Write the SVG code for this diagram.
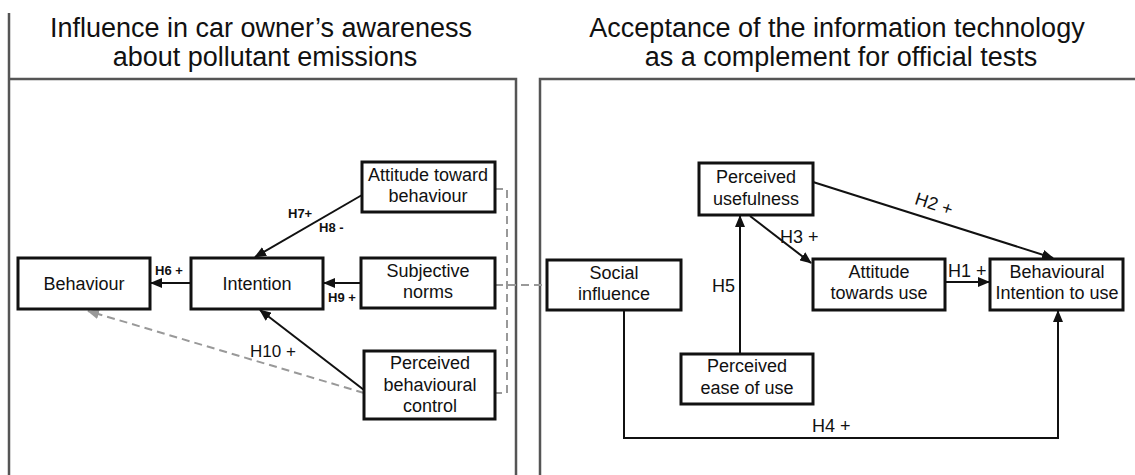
<svg xmlns="http://www.w3.org/2000/svg" width="1135" height="475" viewBox="0 0 1135 475">
<style>
text{font-family:"Liberation Sans",Arial,sans-serif;fill:#111}
.title{font-size:27px;text-anchor:middle}
.node rect{fill:#fff;stroke:#111;stroke-width:3}
.node text{font-size:18px;text-anchor:middle}
.panel{fill:none;stroke:#555;stroke-width:2.5}
.conn{fill:none;stroke:#111;stroke-width:2}
.dash{fill:none;stroke:#999;stroke-width:2;stroke-dasharray:8 5}
.sl{font-size:13px;font-weight:bold}
.lb{font-size:18px}
</style>
<defs>
<marker id="ah" markerUnits="userSpaceOnUse" markerWidth="12" markerHeight="10" refX="11" refY="5" orient="auto">
<path d="M0,0 L12,5 L0,10 Z" fill="#111"/>
</marker>
<marker id="ahg" markerUnits="userSpaceOnUse" markerWidth="12" markerHeight="10" refX="11" refY="5" orient="auto">
<path d="M0,0 L12,5 L0,10 Z" fill="#999"/>
</marker>
</defs>
<g id="panels">
<path class="panel" d="M9,13 V475 M9,79 H516 V475"/>
<path class="panel" d="M540,475 V79 H1135"/>
<text class="title" x="261" y="37">Influence in car owner’s awareness</text>
<text class="title" x="265" y="66">about pollutant emissions</text>
<text class="title" x="837" y="37">Acceptance of the information technology</text>
<text class="title" x="841" y="66">as a complement for official tests</text>
</g>
<g id="connectors">
<line class="conn" x1="191" y1="283" x2="151" y2="283" marker-end="url(#ah)"/>
<line class="conn" x1="361" y1="283" x2="324" y2="283" marker-end="url(#ah)"/>
<line class="conn" x1="362" y1="195" x2="255" y2="257" marker-end="url(#ah)"/>
<line class="conn" x1="364" y1="390" x2="260" y2="310" marker-end="url(#ah)"/>
<line class="dash" x1="364" y1="393" x2="88" y2="311" marker-end="url(#ahg)"/>
<path class="dash" d="M495,189 H507 V393 H495"/>
<line class="dash" x1="495" y1="285" x2="547" y2="285"/>
<line class="conn" x1="813" y1="182" x2="1053" y2="258" marker-end="url(#ah)"/>
<line class="conn" x1="750" y1="216" x2="811" y2="263" marker-end="url(#ah)"/>
<line class="conn" x1="945" y1="282" x2="989" y2="282" marker-end="url(#ah)"/>
<line class="conn" x1="740" y1="354" x2="740" y2="216" marker-end="url(#ah)"/>
<path class="conn" d="M624,310 V438 H1058 V311" marker-end="url(#ah)"/>
<text class="sl" x="155" y="275">H6 +</text>
<text class="sl" x="328" y="302">H9 +</text>
<text class="sl" x="288" y="218">H7+</text>
<text class="sl" x="319" y="232">H8 -</text>
<text x="250" y="357" style="font-size:17px">H10 +</text>
<text class="lb" x="948" y="277">H1 +</text>
<text class="lb" x="934" y="210" text-anchor="middle" transform="rotate(18 934 204)">H2 +</text>
<text class="lb" x="780" y="243">H3 +</text>
<text class="lb" x="712" y="292">H5</text>
<text class="lb" x="812" y="432">H4 +</text>
</g>
<g id="behaviour" class="node"><rect x="18" y="258" width="132" height="51"/><text x="84" y="290">Behaviour</text></g>
<g id="intention" class="node"><rect x="191" y="258" width="132" height="51"/><text x="257" y="290">Intention</text></g>
<g id="attitude-behaviour" class="node"><rect x="362" y="162" width="133" height="50"/><text x="428" y="181">Attitude toward</text><text x="428" y="202">behaviour</text></g>
<g id="subjective-norms" class="node"><rect x="361" y="258" width="134" height="50"/><text x="428" y="277">Subjective</text><text x="428" y="298">norms</text></g>
<g id="pbc" class="node"><rect x="364" y="351" width="131" height="68"/><text x="430" y="369">Perceived</text><text x="430" y="391">behavioural</text><text x="430" y="412">control</text></g>
<g id="social-influence" class="node"><rect x="547" y="260" width="134" height="50"/><text x="614" y="279">Social</text><text x="614" y="300">influence</text></g>
<g id="perceived-usefulness" class="node"><rect x="699" y="163" width="114" height="52"/><text x="756" y="183">Perceived</text><text x="756" y="205">usefulness</text></g>
<g id="perceived-ease" class="node"><rect x="681" y="354" width="132" height="50"/><text x="747" y="372">Perceived</text><text x="747" y="394">ease of use</text></g>
<g id="attitude-use" class="node"><rect x="813" y="259" width="132" height="51"/><text x="879" y="278">Attitude</text><text x="879" y="299">towards use</text></g>
<g id="behavioural-intention" class="node"><rect x="990" y="259" width="133" height="51"/><text x="1057" y="278">Behavioural</text><text x="1057" y="299">Intention to use</text></g>
</svg>
